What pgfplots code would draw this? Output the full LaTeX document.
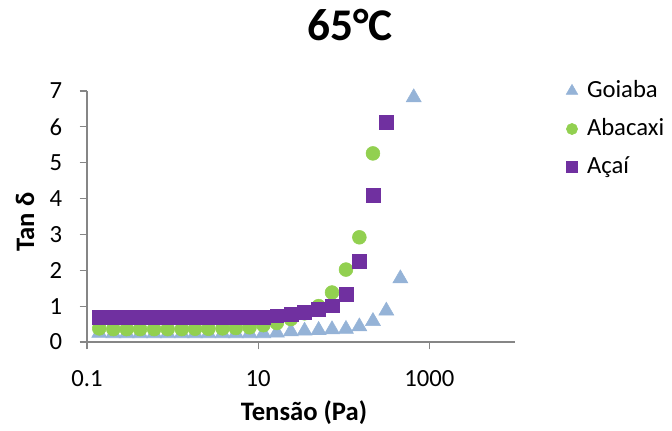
\documentclass[border=0pt]{standalone}
\usepackage{fontspec}
\setmainfont{Carlito}
\usepackage{pgfplots}
\pgfplotsset{compat=1.18}
\definecolor{goiaba}{HTML}{95B3D7}
\definecolor{abacaxi}{HTML}{92D050}
\definecolor{acai}{HTML}{7030A0}
\definecolor{axgray}{HTML}{868686}
\begin{document}
\begin{tikzpicture}
\path[use as bounding box] (-65.25pt,-66pt) rectangle (438.75pt,256.5pt);
\begin{axis}[
  scale only axis, width=321pt, height=188.25pt,
  at={(0pt,0pt)}, anchor=south west,
  xmode=log, xmin=0.1, xmax=10000, ymin=0, ymax=7,
  axis x line*=bottom, axis y line*=left,
  axis line style={axgray, line width=0.9pt},
  tick style={axgray, line width=0.9pt},
  tick align=outside, major tick length=5.5pt,
  xtick={0.1,10,1000}, xticklabels={0.1,10,1000},
  ytick={0,1,2,3,4,5,6,7}, minor tick num=0,
  xminorticks=false,
  /pgf/number format/assume math mode=true,
  tick label style={font=\fontsize{18.5}{22}\selectfont, text=black},
  xticklabel style={anchor=center, yshift=-22pt},
  yticklabel style={anchor=east, inner sep=0pt, xshift=-13pt},
  xlabel={Tensão (Pa)}, ylabel={Tan δ},
  label style={font=\bfseries\fontsize{20}{24}\selectfont},
  xlabel style={at={(axis description cs:0.507,-0.283)}, anchor=center},
  ylabel style={at={(axis description cs:-0.145,0.478)}, anchor=center, rotate=0},
  title={65°C},
  title style={at={(axis description cs:0.6145,1.231)}, anchor=center, font=\bfseries\fontsize{34}{38}\selectfont},
  clip=false,
  legend style={draw=none, fill=none, at={(axis description cs:1.1145,1.0478)}, anchor=north west,
    font=\fontsize{18.5}{22}\selectfont, inner sep=0pt, outer sep=0pt, row sep=10.5pt, column sep=5.25pt,
    nodes={inner sep=0pt, text height=14pt, text depth=4pt}},
  legend cell align=left,
  legend image code/.code={\path[draw=none, fill=none] (-6pt,-5pt) rectangle (6pt,5pt); \draw[#1] plot coordinates {(0pt,0pt)};},
]
\addplot[only marks, mark=triangle*, mark size=6.5pt, color=goiaba, legend image post style={mark size=5pt}] coordinates {
(0.139,0.25)(0.203,0.24)(0.291,0.24)(0.417,0.24)(0.608,0.24)(0.877,0.24)(1.28,0.24)(1.83,0.24)
(2.62,0.24)(3.83,0.24)(5.48,0.24)(7.93,0.24)(11.5,0.24)(16.5,0.26)(24.1,0.29)(34.8,0.31)
(50.8,0.33)(72.8,0.35)(106,0.36)(152,0.43)(219,0.58)(314,0.87)(458,1.77)(656,6.82)};
\addlegendentry{Goiaba}
\addplot[only marks, mark=*, mark size=5.2pt, color=abacaxi, legend image post style={mark size=4.2pt}] coordinates {
(0.139,0.38)(0.203,0.36)(0.291,0.36)(0.417,0.36)(0.608,0.36)(0.877,0.36)(1.28,0.36)(1.83,0.37)
(2.62,0.37)(3.83,0.38)(5.48,0.39)(7.93,0.41)(11.5,0.47)(16.5,0.53)(24.1,0.64)(34.8,0.80)
(50.8,1.00)(72.8,1.38)(106,2.02)(152,2.92)(219,5.26)};
\addlegendentry{Abacaxi}
\addplot[only marks, mark=square*, mark size=5.2pt, color=acai, legend image post style={mark size=4pt}] coordinates {
(0.139,0.70)(0.203,0.68)(0.291,0.68)(0.417,0.68)(0.608,0.68)(0.877,0.68)(1.28,0.68)(1.83,0.68)
(2.62,0.68)(3.83,0.69)(5.48,0.69)(7.93,0.69)(11.5,0.70)(16.5,0.73)(24.1,0.78)(34.8,0.84)
(50.8,0.92)(72.8,1.01)(106,1.32)(152,2.26)(219,4.09)(314,6.14)};
\addlegendentry{Açaí}
\end{axis}
\end{tikzpicture}
\end{document}
